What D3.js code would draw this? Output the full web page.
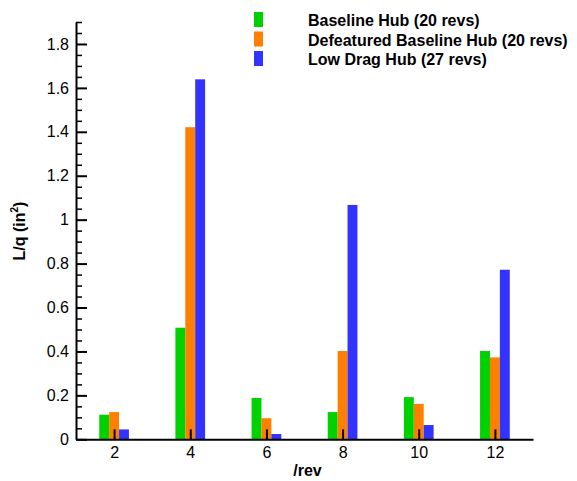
<!DOCTYPE html>
<html>
<head>
<meta charset="utf-8">
<script src="https://cdn.jsdelivr.net/npm/d3@7"></script>
<style>
  html, body { margin: 0; padding: 0; background: #fff; }
  svg { display: block; font-family: "Liberation Sans", Arial, sans-serif; }
</style>
</head>
<body>
<svg id="chart" width="577" height="481"></svg>
<script>
// ---- data ----
const categories = [2, 4, 6, 8, 10, 12];
const seriesNames = ["Baseline Hub (20 revs)", "Defeatured Baseline Hub (20 revs)", "Low Drag Hub (27 revs)"];
const seriesColors = ["#00d200", "#ff8000", "#3333ff"];
const baselineHub = [0.112, 0.508, 0.188, 0.124, 0.192, 0.402];
const defeaturedHub = [0.124, 1.421, 0.096, 0.402, 0.161, 0.373];
const lowDragHub = [0.045, 1.639, 0.024, 1.067, 0.065, 0.772];
const yTickValues = [0, 0.2, 0.4, 0.6, 0.8, 1, 1.2, 1.4, 1.6, 1.8];
const yTickLabels = ["0", "0.2", "0.4", "0.6", "0.8", "1", "1.2", "1.4", "1.6", "1.8"];
const xTickLabels = ["2", "4", "6", "8", "10", "12"];

const seriesValues = [baselineHub, defeaturedHub, lowDragHub];

const svg = d3.select("#chart");
const x = d3.scaleLinear().domain([1, 13]).range([76, 533]);
const y = d3.scaleLinear().domain([0, 1.9]).range([439.3, 22]);
const barW = 0.26;

// bars
seriesValues.forEach((vals, si) => {
  const off = (si - 1) * barW;
  svg.append("g").selectAll("rect")
    .data(vals)
    .join("rect")
    .attr("x", (d, i) => x(categories[i] + off - barW / 2))
    .attr("width", (d, i) => x(categories[i] + off + barW / 2) - x(categories[i] + off - barW / 2))
    .attr("y", d => y(d))
    .attr("height", d => y(0) - y(d))
    .attr("fill", seriesColors[si]);
});

// y minor ticks
const minorVals = d3.range(0, 39).map(i => +(i * 0.05).toFixed(2)).filter(v => Math.abs(v * 5 - Math.round(v * 5)) > 1e-6);
svg.append("g")
  .attr("transform", `translate(${x(1)},0)`)
  .call(d3.axisLeft(y).tickValues(minorVals).tickSize(-6).tickSizeOuter(0).tickFormat(""))
  .call(g => g.select(".domain").remove())
  .call(g => g.selectAll("line").attr("stroke", "#000").attr("stroke-width", 1.5));

// y axis
svg.append("g")
  .attr("transform", `translate(${x(1)},0)`)
  .call(d3.axisLeft(y).tickValues(yTickValues).tickSize(-11).tickSizeOuter(0).tickPadding(7)
    .tickFormat((d, i) => yTickLabels[i]))
  .call(g => g.select(".domain").attr("stroke", "#000").attr("stroke-width", 2))
  .call(g => g.selectAll("line").attr("stroke", "#000").attr("stroke-width", 2))
  .call(g => g.selectAll("text").attr("font-size", 16).attr("fill", "#000")
    .attr("font-family", "'Liberation Sans', Arial, sans-serif"));

// x axis
svg.append("g")
  .attr("transform", `translate(0,${y(0)})`)
  .call(d3.axisBottom(x).tickValues(categories).tickSize(-10).tickSizeOuter(0).tickPadding(7)
    .tickFormat((d, i) => xTickLabels[i]))
  .call(g => g.select(".domain").attr("stroke", "#000").attr("stroke-width", 2))
  .call(g => g.selectAll("line").attr("stroke", "#000").attr("stroke-width", 2))
  .call(g => g.selectAll("text").attr("font-size", 16).attr("fill", "#000")
    .attr("font-family", "'Liberation Sans', Arial, sans-serif"));

// axis titles
svg.append("text")
  .attr("x", (x(1) + x(13)) / 2 + 3)
  .attr("y", 476)
  .attr("text-anchor", "middle")
  .attr("font-size", 16)
  .attr("font-weight", "bold")
  .text("/rev");

const yt = svg.append("text")
  .attr("transform", "translate(25,231) rotate(-90)")
  .attr("text-anchor", "middle")
  .attr("font-size", 16)
  .attr("font-weight", "bold");
yt.append("tspan").text("L/q (in");
yt.append("tspan").attr("font-size", 10).attr("dy", -7).text("2");
yt.append("tspan").attr("dy", 7).text(")");

// legend
const leg = svg.append("g");
seriesNames.forEach((name, i) => {
  const by = 26 + i * 19.5;
  leg.append("rect").attr("x", 254).attr("y", by - 14).attr("width", 9).attr("height", 15)
    .attr("fill", seriesColors[i]);
  leg.append("text").attr("x", 308).attr("y", by)
    .attr("font-size", 16).attr("font-weight", "bold").text(name);
});
</script>
</body>
</html>
